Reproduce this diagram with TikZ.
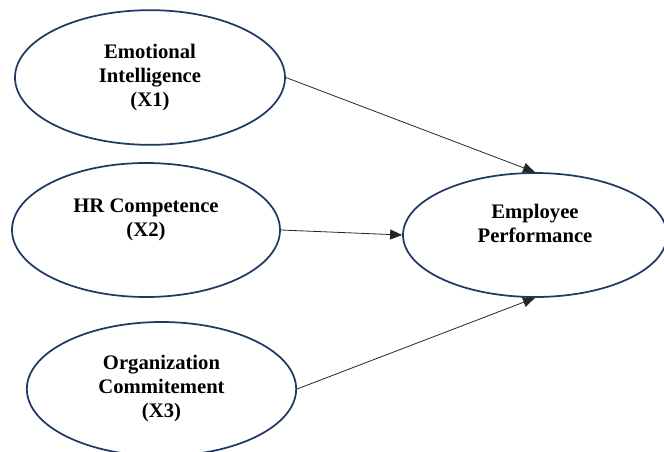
\documentclass[tikz,border=0pt]{standalone}
\usepackage{fontspec}
\setmainfont{Liberation Serif}
\usetikzlibrary{shapes.geometric,arrows.meta}

\definecolor{navy}{HTML}{203864}

\tikzset{
  construct/.style={ellipse, draw=navy, line width=1.3pt, inner sep=0pt,
    align=center, font=\fontsize{15.5}{18}\selectfont\bfseries},
  path/.style={-{Triangle[length=9pt,width=7.5pt]}, line width=0.6pt, black!85}
}

\begin{document}
\begin{tikzpicture}[x=0.75pt,y=-0.75pt]
  \useasboundingbox (0,0) rectangle (664,451);

  % Exogenous constructs
  \node[construct, minimum width=202.5pt, minimum height=101pt] (x1) at (150,77.5)
    {Emotional\\Intelligence\\(X1)};
  \node[construct, minimum width=201pt, minimum height=100.5pt] (x2) at (146,230)
    {HR Competence\\(X2)\\\mbox{}};
  \node[construct, minimum width=202pt, minimum height=100.5pt] (x3) at (161.5,389)
    {Organization\\Commitement\\(X3)};

  % Endogenous construct
  \node[construct, minimum width=198pt, minimum height=93pt] (y) at (535,235)
    {Employee\\Performance\\\mbox{}};

  % Paths
  \draw[path] (x1.east) -- (y.north);
  \draw[path] (x2.east) -- (y.west);
  \draw[path] (x3.east) -- (y.south);
\end{tikzpicture}
\end{document}
